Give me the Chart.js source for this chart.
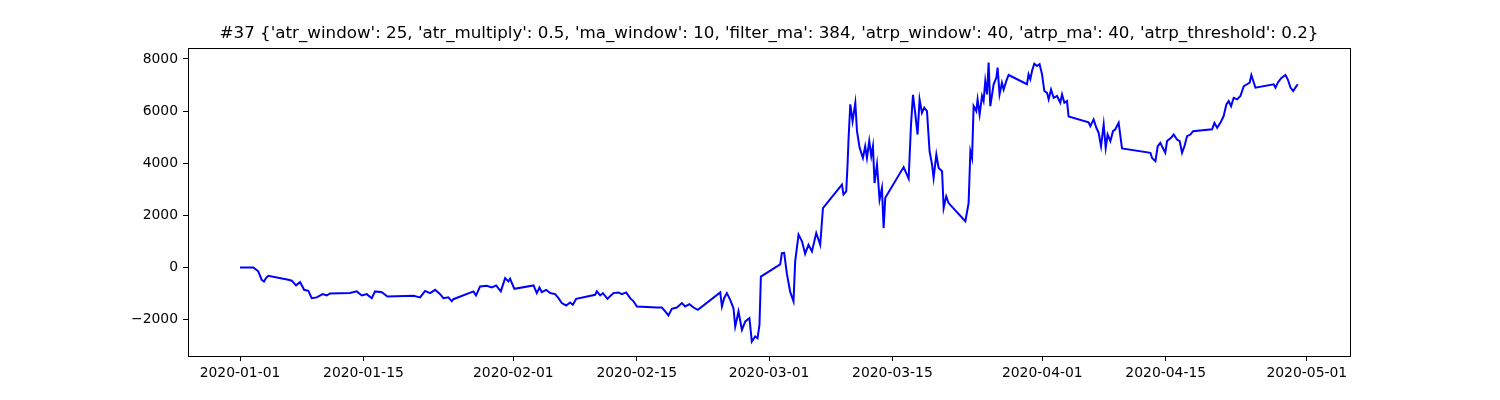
<!DOCTYPE html>
<html>
<head>
<meta charset="utf-8">
<script src="https://cdn.jsdelivr.net/npm/chart.js@4.4.0/dist/chart.umd.min.js"></script>
<style>
  body { margin: 0; background: #fff; }
</style>
</head>
<body>
<canvas id="equityChart" width="1500" height="400"></canvas>
<script>
// days since 2020-01-01 and the equity value at that time
const days = [
  0, 1.51, 2.07, 2.46, 2.72, 2.95, 3.21, 5.48, 5.87, 6.35, 6.81, 7.27, 7.75, 8.13, 8.70, 9.38, 9.84, 10.21,
  12.48, 13.24, 13.81, 14.38, 14.94, 15.32, 16.08, 16.72, 19.67, 20.43, 20.99, 21.56, 22.13, 22.70, 23.07,
  23.63, 24.02, 24.20, 26.48, 26.77, 27.23, 27.99, 28.56, 29.05, 29.58, 30.07, 30.44, 30.63, 31.12, 33.29,
  33.66, 33.96, 34.23, 34.72, 35.18, 35.75, 36.12, 36.50, 36.99, 37.44, 37.75, 38.13, 40.28, 40.47, 40.85,
  41.16, 41.68, 42.35, 42.92, 43.31, 43.80, 44.25, 44.63, 45.02, 47.28, 47.85, 48.23, 48.59, 48.98, 49.55,
  50.12, 50.49, 50.98, 51.44, 51.93, 54.47, 54.66, 54.91, 55.22, 55.60, 55.97, 56.17, 56.54, 56.93, 57.31,
  57.78, 58.05, 58.43, 58.70, 58.92, 59.08, 61.27, 61.46, 61.72, 62.03, 62.41, 62.78, 62.97, 63.35, 63.74,
  64.10, 64.48, 64.87, 65.36, 65.81, 66.12, 68.27, 68.45, 68.76, 68.91, 69.02, 69.22, 69.48, 69.79, 69.98,
  70.28, 70.65, 70.91, 71.11, 71.37, 71.60, 71.79, 71.97, 72.25, 72.54, 72.81, 73.00, 73.19, 75.27, 75.84,
  76.11, 76.33, 76.60, 76.85, 77.08, 77.35, 77.61, 77.92, 78.21, 78.49, 78.67, 78.98, 79.24, 79.63, 79.81,
  80.10, 80.37, 82.27, 82.64, 82.84, 83.03, 83.21, 83.51, 83.66, 83.89, 84.16, 84.34, 84.53, 84.73, 84.91,
  85.10, 85.48, 85.79, 85.93, 86.15, 86.42, 86.61, 86.91, 87.18, 89.26, 89.44, 89.64, 89.83, 90.09, 90.40,
  90.69, 90.97, 91.23, 91.54, 91.72, 91.99, 92.29, 92.67, 93.04, 93.24, 93.50, 93.80, 93.98, 96.25, 96.45,
  96.82, 97.13, 97.39, 97.66, 97.96, 98.19, 98.41, 98.72, 99.02, 99.28, 99.66, 100.04, 103.26, 103.45,
  103.83, 104.09, 104.39, 104.66, 104.95, 105.15, 105.60, 105.90, 106.28, 106.58, 106.85, 107.12, 107.42,
  107.80, 108.10, 110.26, 110.52, 110.83, 111.20, 111.57, 111.88, 112.14, 112.41, 112.71, 113.09, 113.47,
  113.85, 114.22, 114.52, 114.71, 115.17, 117.25, 117.45, 117.71, 118.09, 118.58, 118.84, 119.15, 119.45,
  119.71, 119.97
];

const equity = [
  0, 0, -150, -475, -540, -410, -320, -475, -510, -690, -565, -860, -900, -1180, -1150, -1025, -1075, -1000,
  -985, -920, -1075, -1025, -1180, -920, -950, -1115, -1090, -1150, -900, -985, -860, -1025, -1180,
  -1150, -1300, -1220, -920, -1075, -730, -705, -770, -690, -920, -410, -540, -435, -820, -690,
  -985, -770, -950, -860, -985, -1025, -1180, -1370, -1460, -1345, -1435, -1205, -1050, -920, -1075,
  -985, -1205, -985, -960, -1025, -960, -1180, -1300, -1500, -1540, -1540, -1690, -1845, -1590, -1540,
  -1370, -1500, -1410, -1540, -1630, -960, -1500, -1180, -985, -1245, -1565, -2270, -1690, -2400, -2075,
  -1950, -2850, -2650, -2720, -2200, -350, 120, 550, 560, -250, -950, -1300, 230, 1260, 1000,
  520, 870, 615, 1320, 870, 2280, 3180, 2800, 2920, 3950, 4910, 6260, 5615, 6320, 5230,
  4590, 4200, 4650, 4200, 4850, 4270, 4650, 3240, 3950, 2600, 3050, 1510, 2670, 3850, 3410,
  5490, 6620, 5870, 5100, 6450, 5930, 6130, 6000, 4460, 3950, 3430, 4330, 3820, 3690, 2280,
  2730, 2470, 1770, 2470, 4460, 4200, 6190, 6000, 6450, 5870, 6580, 6385, 7150, 6640, 7860,
  6190, 7030, 7280, 7670, 6640, 7090, 6830, 7150, 7385, 7030, 7410, 7220, 7540, 7820, 7730,
  7800, 7410, 6770, 6700, 6450, 6830, 6510, 6580, 6320, 6640, 6320, 6385, 5790, 5570, 5420,
  5680, 5360, 5165, 4650, 5490, 4590, 5100, 4850, 5230, 5300, 5550, 4565, 4400, 4200,
  4080, 4650, 4780, 4590, 4400, 4850, 4975, 5100, 4910, 4850, 4400, 4650, 5040,
  5100, 5230, 5300, 5550, 5360, 5550, 5810, 6260, 6385, 6190, 6510, 6450, 6580,
  6960, 7030, 7090, 7385, 6900, 7030, 6900, 7090, 7260, 7385, 7220, 6900, 6770,
  6900, 7030
];

const xTickDays = [0, 14, 31, 45, 60, 74, 91, 105, 121];
const xTickLabels = ['2020-01-01', '2020-01-15', '2020-02-01', '2020-02-15', '2020-03-01',
  '2020-03-15', '2020-04-01', '2020-04-15', '2020-05-01'];
const yTicks = [-2000, 0, 2000, 4000, 6000, 8000];

const titleText = "#37 {'atr_window': 25, 'atr_multiply': 0.5, 'ma_window': 10, 'filter_ma': 384, 'atrp_window': 40, 'atrp_ma': 40, 'atrp_threshold': 0.2}";

const points = days.map((d, i) => ({ x: d, y: equity[i] }));

const tickFont = { family: 'DejaVu Sans', size: 13.9 };

// box around the plot area, like the matplotlib frame
const frame = {
  id: 'frame',
  afterDraw(chart) {
    const a = chart.chartArea;
    const ctx = chart.ctx;
    ctx.save();
    ctx.strokeStyle = '#000';
    ctx.lineWidth = 1;
    ctx.strokeRect(Math.round(a.left) + 0.5, Math.round(a.top) + 0.5,
      Math.round(a.right - a.left), Math.round(a.bottom - a.top));
    ctx.restore();
  }
};

let equityChart = new Chart(document.getElementById('equityChart').getContext('2d'), {
  type: 'line',
  data: {
    datasets: [{
      data: points,
      borderColor: '#0000ff',
      borderWidth: 2,
      pointRadius: 0,
      tension: 0,
      fill: false
    }]
  },
  options: {
    responsive: false,
    animation: false,
    layout: {
      padding: { left: 0, right: 150, top: 0, bottom: 0 }
    },
    plugins: {
      legend: { display: false },
      tooltip: { enabled: false },
      title: {
        display: true,
        text: titleText,
        fullSize: false,
        color: '#000',
        font: { family: 'DejaVu Sans', size: 16.7, weight: 'normal', lineHeight: 1.2 },
        padding: { top: 24, bottom: 4 }
      }
    },
    scales: {
      x: {
        type: 'linear',
        min: -5.9,
        max: 125.9,
        afterBuildTicks: s => { s.ticks = xTickDays.map(v => ({ value: v })); },
        afterFit: s => { s.height = 44; },
        ticks: {
          autoSkip: false,
          maxRotation: 0,
          color: '#000',
          font: tickFont,
          padding: 4,
          callback: (v, i) => xTickLabels[i]
        },
        grid: { drawOnChartArea: false, drawTicks: true, tickLength: 5, color: '#000' },
        border: { display: true, color: '#000', width: 1 }
      },
      y: {
        type: 'linear',
        min: -3400,
        max: 8420,
        afterBuildTicks: s => { s.ticks = yTicks.map(v => ({ value: v })); },
        afterFit: s => { s.width = 188; },
        ticks: {
          color: '#000',
          font: tickFont,
          padding: 5,
          callback: v => (v < 0 ? '\u2212' + Math.abs(v) : String(v))
        },
        grid: { drawOnChartArea: false, drawTicks: true, tickLength: 5, color: '#000' },
        border: { display: true, color: '#000', width: 1 }
      }
    }
  },
  plugins: [frame]
});
</script>
</body>
</html>
